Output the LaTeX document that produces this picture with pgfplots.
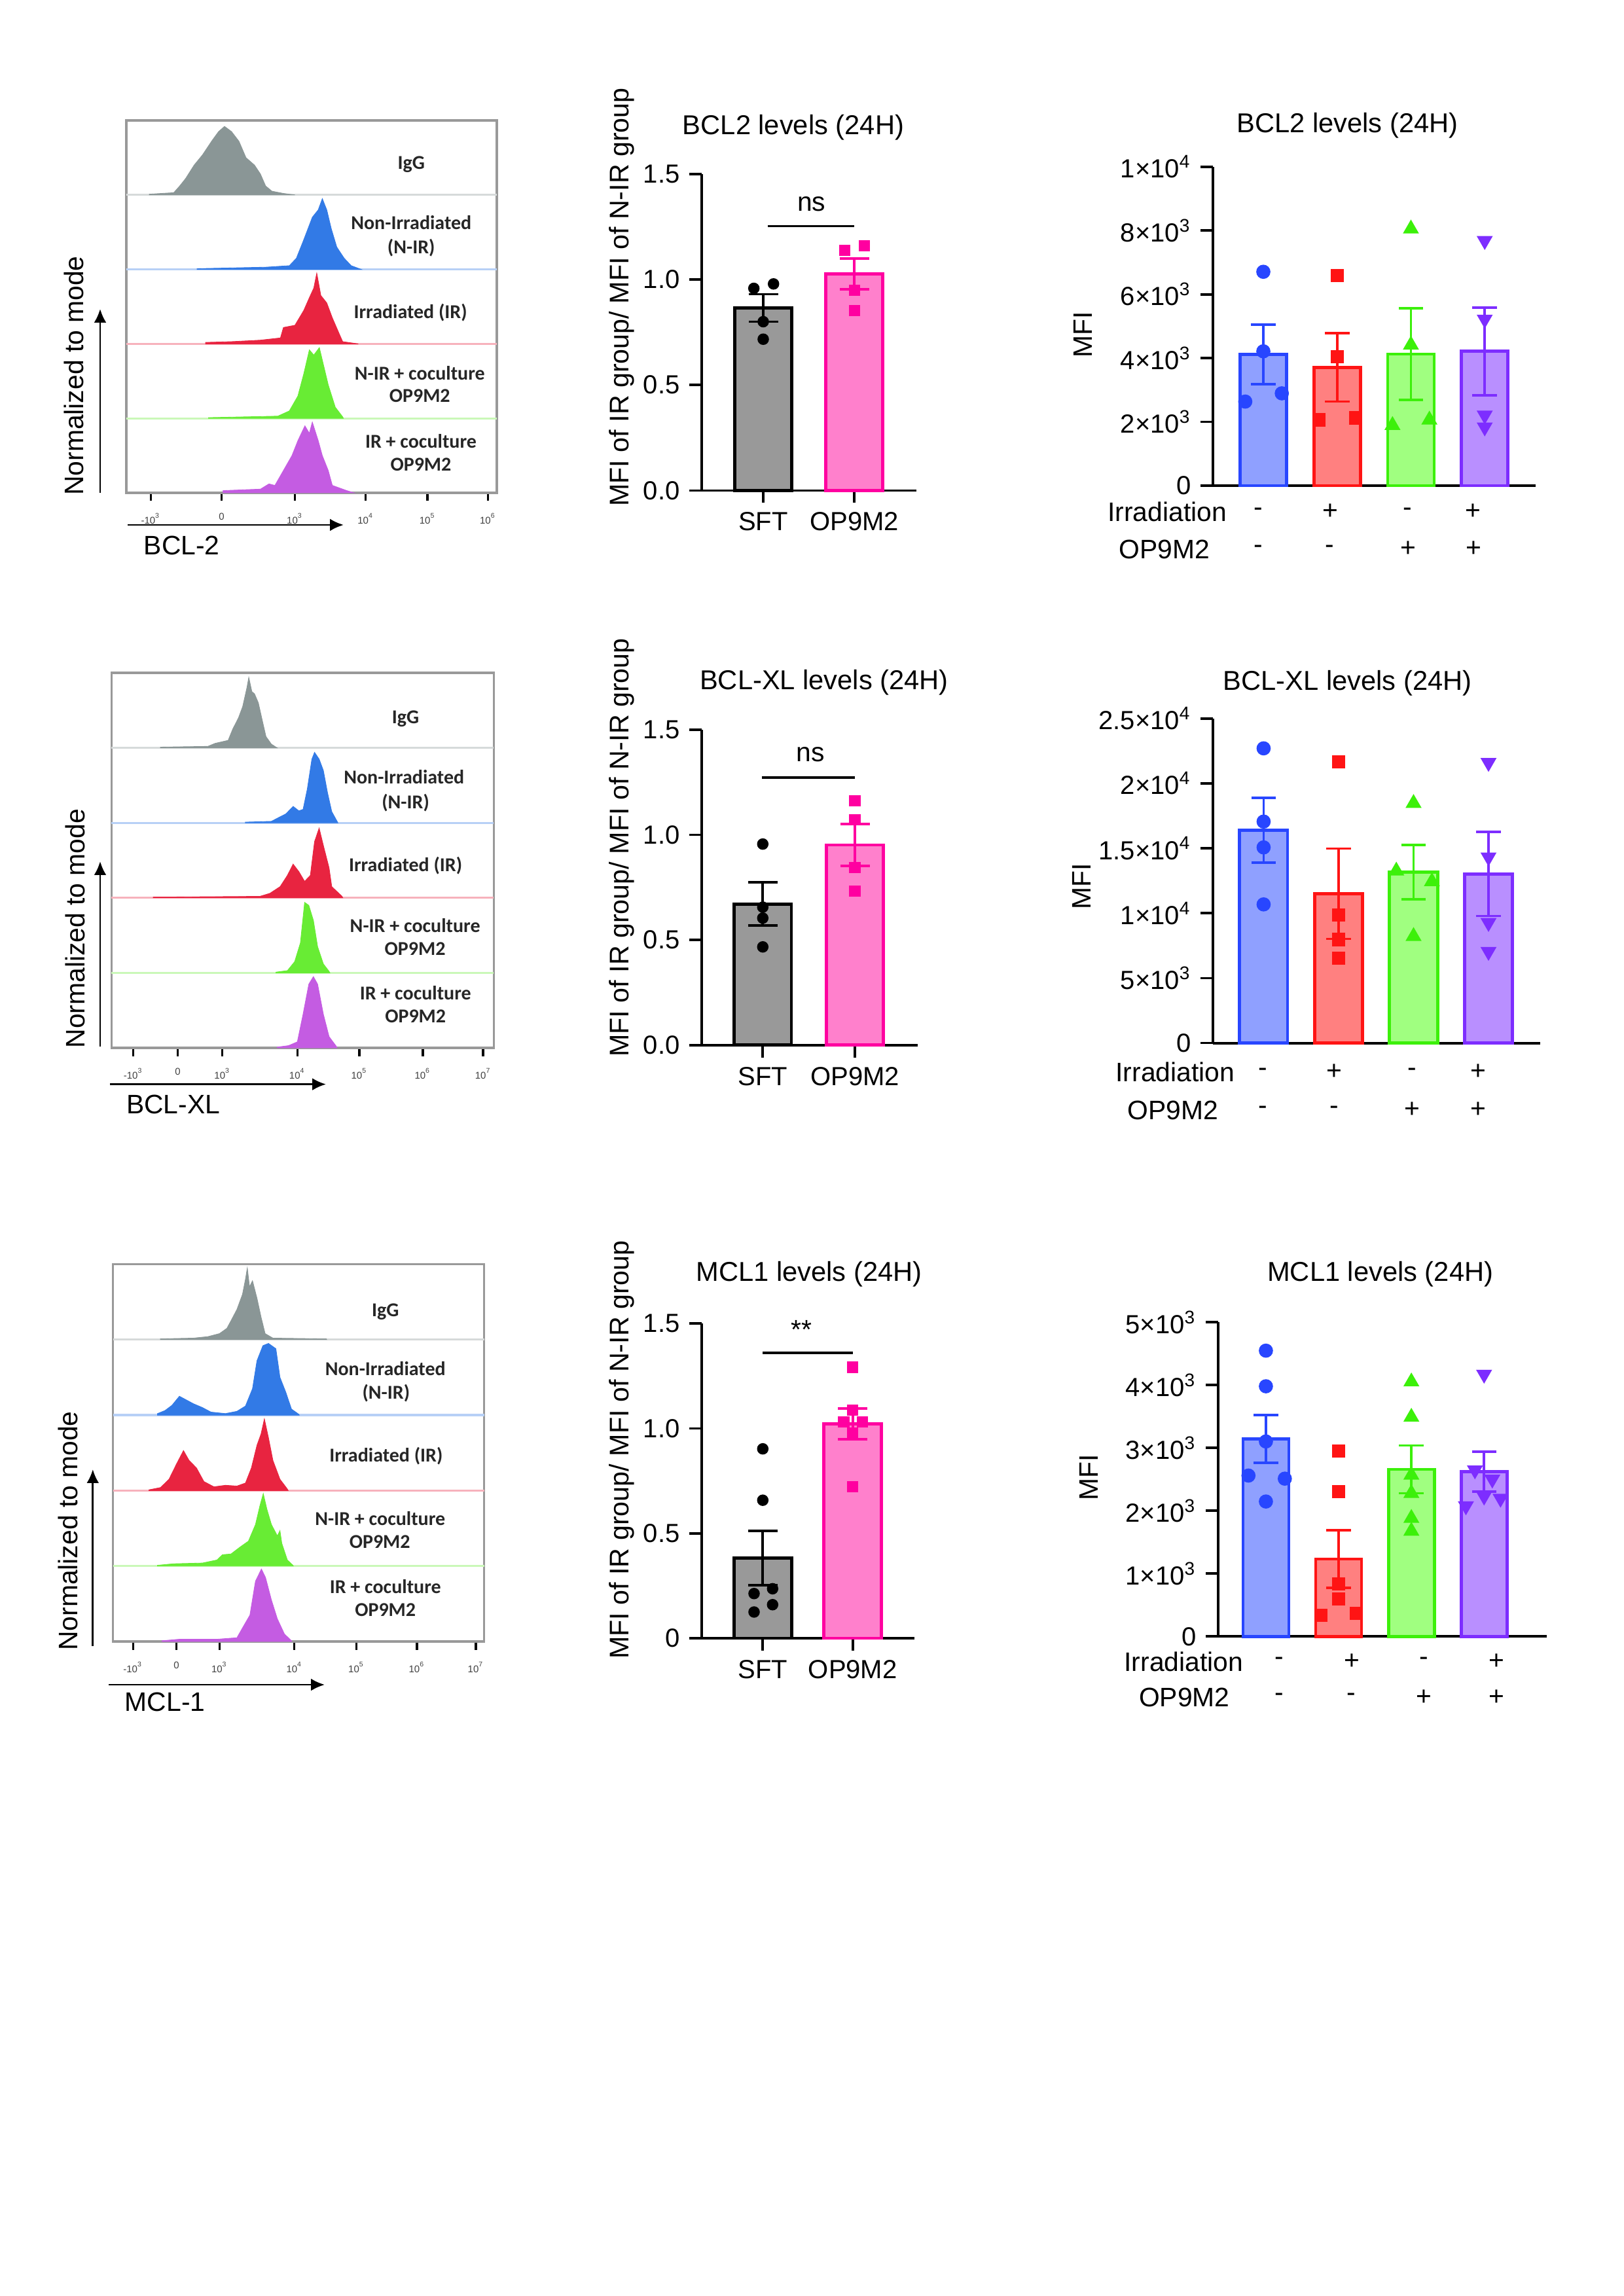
\documentclass[border=0pt]{standalone}
\usepackage{pgfplots}
\pgfplotsset{compat=1.18}
\usepackage{fontspec}
\setmainfont{Liberation Sans}
\newfontfamily\lanefont{Carlito}
\usetikzlibrary{arrows.meta}
\def\pxu{0.24pt}
\definecolor{hgray}{RGB}{138,150,150}
\definecolor{hblue}{RGB}{50,122,230}
\definecolor{hred}{RGB}{232,36,64}
\definecolor{hgreen}{RGB}{104,236,52}
\definecolor{hpurple}{RGB}{196,92,226}
\definecolor{eblue}{RGB}{40,70,255}
\definecolor{fblue}{RGB}{143,160,255}
\definecolor{ered}{RGB}{255,20,20}
\definecolor{fred}{RGB}{255,128,128}
\definecolor{egreen}{RGB}{60,240,10}
\definecolor{fgreen}{RGB}{160,255,128}
\definecolor{epurple}{RGB}{125,45,255}
\definecolor{fpurple}{RGB}{185,143,255}
\definecolor{epink}{RGB}{255,0,160}
\definecolor{fpink}{RGB}{255,128,204}
\definecolor{fgray}{RGB}{153,153,153}
\newcommand\ex[1]{10\textsuperscript{#1}}
\pgfplotsset{
  histax/.style={scale only axis, anchor=south west, xmin=0, xmax=100, ymin=0, ymax=5,
    ytick=\empty, xtick pos=left, tick align=outside,
    axis line style={draw=black!40, line width=0.8pt},
    major tick length=3pt, minor tick length=1.8pt, minor x tick num=4,
    tick style={black, line width=0.8pt},
    xticklabel style={font=\fontsize{3.6}{4}\selectfont, text=black!75, yshift=-1pt},
    clip=false},
  midax/.style={scale only axis, anchor=south west, axis x line=bottom, axis y line=left,
    axis line style={-, line width=0.9pt}, tick style={black, line width=0.9pt},
    tick align=outside, major tick length=4.5pt, clip=false, scaled y ticks=false,
    tick label style={font=\fontsize{9.6}{10}\selectfont}},
  rightax/.style={midax, xtick=\empty, axis line style={-, line width=1pt}},
  mbar/.style n args={4}{ybar, bar shift=0pt, bar width=#1, fill=#2, draw=#3, line width=1.15pt,
    error bars/.cd, y dir=both, y explicit,
    error bar style={line width=0.9pt, #3},
    error mark options={rotate=90, mark size=#4, line width=0.9pt, #3}},
}
\tikzset{lane/.style={font=\lanefont\bfseries\fontsize{7.2}{8}\selectfont, text=black!85, inner sep=0pt},
  txt/.style={font=\fontsize{9.8}{11}\selectfont, inner sep=0pt},
  ttl/.style={font=\fontsize{10}{12}\selectfont, inner sep=0pt},
  arr/.style={line width=0.7pt, -{Latex[length=5pt,width=4.5pt]}}}
\begin{document}
\begin{tikzpicture}
\path[use as bounding box] (0,0) rectangle ({2480*\pxu},{-3508*\pxu});

% ================= ROW 1 =================
\begin{axis}[histax, at={({193*\pxu},{-753*\pxu})}, width=135.84pt, height=136.56pt,
  xtick={6.6,25.7,45.5,64.6,81.3,97.6}, xticklabels={-\ex{3},0,\ex{3},\ex{4},\ex{5},\ex{6}}]
\draw[hgray!35, line width=0.8pt] (axis cs:0,4) -- (axis cs:100,4);
\draw[hblue!35, line width=0.8pt] (axis cs:0,3) -- (axis cs:100,3);
\draw[hred!35, line width=0.8pt] (axis cs:0,2) -- (axis cs:100,2);
\draw[hgreen!35, line width=0.8pt] (axis cs:0,1) -- (axis cs:100,1);
\addplot[fill=hgray, draw=hgray, line width=0.2pt] coordinates {(6.2,4) (6.2,4.01) (12.8,4.03) (14.4,4.12) (16.0,4.22) (18.3,4.40) (20.6,4.54) (23.0,4.72) (24.9,4.85) (26.5,4.92) (28.4,4.85) (30.4,4.72) (32.3,4.50) (34.6,4.40) (36.2,4.28) (37.6,4.12) (39.3,4.05) (42.4,4.02) (45.5,4)} -- cycle;
\addplot[fill=hblue, draw=hblue, line width=0.2pt] coordinates {(19.1,3) (19.1,3.01) (37.7,3.03) (44.0,3.05) (45.9,3.15) (47.9,3.40) (50.2,3.70) (51.8,3.80) (52.9,3.95) (54.1,3.80) (55.3,3.55) (56.8,3.30) (58.8,3.15) (60.7,3.05) (63.4,3)} -- cycle;
\addplot[fill=hred, draw=hred, line width=0.2pt] coordinates {(21.4,2) (21.4,2.02) (28.4,2.03) (36.2,2.05) (41.6,2.08) (42.4,2.22) (45.5,2.25) (47.9,2.45) (49.4,2.62) (50.6,2.75) (51.4,2.95) (52.5,2.65) (54.1,2.55) (55.6,2.35) (57.6,2.12) (58.4,2.03) (62.6,2)} -- cycle;
\addplot[fill=hgreen, draw=hgreen, line width=0.2pt] coordinates {(22.2,1) (22.2,1.01) (40.9,1.03) (44.0,1.10) (46.3,1.30) (47.9,1.60) (49.4,1.92) (50.6,1.85) (52.1,1.95) (53.3,1.70) (54.5,1.45) (56.4,1.15) (58.4,1.02) (58.6,1)} -- cycle;
\addplot[fill=hpurple, draw=hpurple, line width=0.2pt] coordinates {(26.1,0) (26.1,0.03) (36.2,0.05) (38.5,0.12) (40.1,0.10) (42.4,0.30) (44.7,0.50) (46.3,0.70) (48.2,0.90) (49.4,0.80) (50.2,0.95) (51.8,0.70) (52.9,0.50) (54.5,0.30) (55.6,0.10) (59.5,0.03) (61.5,0)} -- cycle;
\node[lane] at (axis cs:76.9,4.41) {IgG};
\node[lane] at (axis cs:76.9,3.63) {Non-Irradiated};
\node[lane] at (axis cs:76.9,3.29) {(N-IR)};
\node[lane] at (axis cs:76.7,2.42) {Irradiated (IR)};
\node[lane] at (axis cs:79.2,1.61) {N-IR + coculture};
\node[lane] at (axis cs:79.2,1.30) {OP9M2};
\node[lane] at (axis cs:79.5,0.69) {IR + coculture};
\node[lane] at (axis cs:79.5,0.38) {OP9M2};
\end{axis}
\node[txt, rotate=90] at ({113*\pxu},{-574*\pxu}) {Normalized to mode};
\draw[arr] ({153*\pxu},{-753*\pxu}) -- ({153*\pxu},{-472*\pxu});
\draw[arr] ({195*\pxu},{-802*\pxu}) -- ({525*\pxu},{-802*\pxu});
\node[txt, anchor=west] at ({219*\pxu},{-833*\pxu}) {BCL-2};

\begin{axis}[midax, at={({1072*\pxu},{-749.4*\pxu})}, width=78.72pt, height=116.06pt,
  xmin=-0.676, xmax=1.683, ymin=0, ymax=1.5,
  ytick={0,0.5,1,1.5}, yticklabels={0.0,0.5,1.0,1.5}, xtick={0,1}, xticklabels={SFT,OP9M2}]
\addplot[mbar={0.626}{fgray}{black}{5.4pt}] coordinates {(0,0.865) +- (0,0.065)};
\addplot[mbar={0.626}{fpink}{epink}{5.4pt}] coordinates {(1,1.027) +- (0,0.073)};
\addplot[only marks, mark=*, mark size=1.9pt, black] coordinates {(-0.103,0.958) (0.113,0.979) (0,0.80) (0,0.717)};
\addplot[only marks, mark=square*, mark size=1.85pt, epink] coordinates {(0.897,1.139) (1.108,1.16) (1,0.949) (1,0.852)};
\draw[line width=0.9pt] (axis cs:0.05,1.253) -- (axis cs:1,1.253);
\node[txt] at (axis cs:0.53,1.357) {ns};
\end{axis}
\node[ttl] at ({1212*\pxu},{-195*\pxu}) {BCL2 levels (24H)};
\node[txt, rotate=90, font=\fontsize{9.9}{11}\selectfont] at ({950*\pxu},{-454*\pxu}) {MFI of IR group/ MFI of N-IR group};

\begin{axis}[rightax, at={({1853*\pxu},{-742*\pxu})}, width=118.32pt, height=116.95pt,
  xmin=-0.683, xmax=3.69, ymin=0, ymax=10000,
  ytick={0,2000,4000,6000,8000,10000},
  yticklabels={0,2×10\textsuperscript{3},4×10\textsuperscript{3},6×10\textsuperscript{3},8×10\textsuperscript{3},1×10\textsuperscript{4}}]
\addplot[mbar={0.63}{fblue}{eblue}{4.5pt}] coordinates {(0,4112) +- (0,931)};
\addplot[mbar={0.63}{fred}{ered}{4.5pt}] coordinates {(1,3710) +- (0,1075)};
\addplot[mbar={0.63}{fgreen}{egreen}{4.5pt}] coordinates {(2,4126) +- (0,1433)};
\addplot[mbar={0.63}{fpurple}{epurple}{4.5pt}] coordinates {(3,4212) +- (0,1375)};
\addplot[only marks, mark=*, mark size=2.4pt, eblue] coordinates {(0,6705) (0,4212) (-0.245,2636) (0.25,2894)};
\addplot[only marks, mark=square*, mark size=2.25pt, ered] coordinates {(1,6590) (1,4040) (0.755,2063) (1.25,2120)};
\addplot[only marks, mark=triangle*, mark size=3pt, egreen] coordinates {(2,8052) (2,4413) (1.75,1891) (2.25,2063)};
\addplot[only marks, mark=triangle*, mark size=3pt, mark options={rotate=180}, epurple] coordinates {(3,7679) (3,5215) (3,2206) (3,1834)};
\node[txt, anchor=east] at (axis cs:-0.49,-821) {Irradiation};
\node[txt] at (axis cs:-0.07,-821) {-};
\node[txt] at (axis cs:0.905,-821) {+};
\node[txt] at (axis cs:1.95,-821) {-};
\node[txt] at (axis cs:2.84,-821) {+};
\node[txt, anchor=east] at (axis cs:-0.72,-1990) {OP9M2};
\node[txt] at (axis cs:-0.07,-1990) {-};
\node[txt] at (axis cs:0.9,-1990) {-};
\node[txt] at (axis cs:1.96,-1990) {+};
\node[txt] at (axis cs:2.85,-1990) {+};
\end{axis}
\node[ttl] at ({2058.5*\pxu},{-192*\pxu}) {BCL2 levels (24H)};
\node[txt, rotate=90] at ({1654.5*\pxu},{-511*\pxu}) {MFI};

% ================= ROW 2 =================
\begin{axis}[histax, at={({170.4*\pxu},{-1601*\pxu})}, width=140.18pt, height=137.52pt,
  xtick={5.7,17.3,29.0,48.6,64.8,81.4,97.2}, xticklabels={-\ex{3},0,\ex{3},\ex{4},\ex{5},\ex{6},\ex{7}}]
\draw[hgray!35, line width=0.8pt] (axis cs:0,4) -- (axis cs:100,4);
\draw[hblue!35, line width=0.8pt] (axis cs:0,3) -- (axis cs:100,3);
\draw[hred!35, line width=0.8pt] (axis cs:0,2) -- (axis cs:100,2);
\draw[hgreen!35, line width=0.8pt] (axis cs:0,1) -- (axis cs:100,1);
\addplot[fill=hgray, draw=hgray, line width=0.2pt] coordinates {(12.8,4) (12.8,4.01) (25.2,4.02) (27.1,4.06) (30.5,4.10) (31.7,4.25) (33.2,4.40) (34.3,4.55) (35.4,4.80) (35.9,4.94) (36.7,4.75) (37.4,4.72) (38.4,4.60) (39.5,4.35) (40.4,4.15) (41.8,4.05) (43.3,4)} -- cycle;
\addplot[fill=hblue, draw=hblue, line width=0.2pt] coordinates {(35.0,3) (35.0,3.01) (41.8,3.02) (43.3,3.06) (45.6,3.12) (47.5,3.22) (49.0,3.16) (50.1,3.18) (51.2,3.45) (52.4,3.85) (53.1,3.94) (54.3,3.85) (55.4,3.70) (56.5,3.40) (57.6,3.15) (59.0,3.02) (59.2,3)} -- cycle;
\addplot[fill=hred, draw=hred, line width=0.2pt] coordinates {(10.9,2) (10.9,2.01) (38.8,2.02) (41.4,2.06) (44.1,2.15) (46.0,2.30) (47.5,2.45) (49.0,2.35) (50.5,2.22) (52.0,2.30) (53.1,2.75) (54.3,2.93) (55.4,2.70) (56.9,2.40) (57.6,2.15) (60.3,2.02) (60.5,2)} -- cycle;
\addplot[fill=hgreen, draw=hgreen, line width=0.2pt] coordinates {(43.0,1) (43.0,1.01) (46.0,1.03) (47.9,1.15) (49.4,1.40) (50.5,1.94) (51.6,1.90) (52.8,1.70) (53.9,1.35) (55.4,1.12) (56.9,1.02) (57.1,1)} -- cycle;
\addplot[fill=hpurple, draw=hpurple, line width=0.2pt] coordinates {(43.3,0) (43.3,0.01) (46.3,0.03) (48.6,0.08) (50.1,0.45) (51.6,0.85) (52.8,0.95) (53.9,0.85) (55.4,0.45) (56.9,0.15) (58.8,0.02) (59.0,0)} -- cycle;
\node[lane] at (axis cs:76.9,4.39) {IgG};
\node[lane] at (axis cs:76.5,3.61) {Non-Irradiated};
\node[lane] at (axis cs:76.9,3.27) {(N-IR)};
\node[lane] at (axis cs:76.9,2.43) {Irradiated (IR)};
\node[lane] at (axis cs:79.4,1.63) {N-IR + coculture};
\node[lane] at (axis cs:79.4,1.32) {OP9M2};
\node[lane] at (axis cs:79.5,0.73) {IR + coculture};
\node[lane] at (axis cs:79.5,0.42) {OP9M2};
\end{axis}
\node[txt, rotate=90] at ({115*\pxu},{-1418.6*\pxu}) {Normalized to mode};
\draw[arr] ({153*\pxu},{-1599*\pxu}) -- ({153*\pxu},{-1316*\pxu});
\draw[arr] ({168*\pxu},{-1656.6*\pxu}) -- ({498*\pxu},{-1656.6*\pxu});
\node[txt, anchor=west] at ({192.4*\pxu},{-1687*\pxu}) {BCL-XL};

\begin{axis}[midax, at={({1072*\pxu},{-1596.8*\pxu})}, width=79.2pt, height=115.68pt,
  xmin=-0.663, xmax=1.682, ymin=0, ymax=1.5,
  ytick={0,0.5,1,1.5}, yticklabels={0.0,0.5,1.0,1.5}, xtick={0,1}, xticklabels={SFT,OP9M2}]
\addplot[mbar={0.62}{fgray}{black}{5.4pt}] coordinates {(0,0.671) +- (0,0.103)};
\addplot[mbar={0.62}{fpink}{epink}{5.4pt}] coordinates {(1,0.952) +- (0,0.099)};
\addplot[only marks, mark=*, mark size=1.9pt, black] coordinates {(0,0.956) (0,0.656) (0,0.604) (0,0.467)};
\addplot[only marks, mark=square*, mark size=1.85pt, epink] coordinates {(1,1.161) (1,1.071) (1,0.844) (1,0.733)};
\draw[line width=0.9pt] (axis cs:-0.01,1.273) -- (axis cs:1,1.273);
\node[txt] at (axis cs:0.52,1.382) {ns};
\end{axis}
\node[ttl] at ({1259*\pxu},{-1042.6*\pxu}) {BCL-XL levels (24H)};
\node[txt, rotate=90, font=\fontsize{9.9}{11}\selectfont] at ({950*\pxu},{-1295*\pxu}) {MFI of IR group/ MFI of N-IR group};

\begin{axis}[rightax, at={({1853*\pxu},{-1593.6*\pxu})}, width=120pt, height=119pt,
  xmin=-0.676, xmax=3.69, ymin=0, ymax=25000,
  ytick={0,5000,10000,15000,20000,25000},
  yticklabels={0,5×10\textsuperscript{3},1×10\textsuperscript{4},1.5×10\textsuperscript{4},2×10\textsuperscript{4},2.5×10\textsuperscript{4}}]
\addplot[mbar={0.64}{fblue}{eblue}{4.5pt}] coordinates {(0,16400) +- (0,2500)};
\addplot[mbar={0.64}{fred}{ered}{4.5pt}] coordinates {(1,11500) +- (0,3475)};
\addplot[mbar={0.64}{fgreen}{egreen}{4.5pt}] coordinates {(2,13170) +- (0,2090)};
\addplot[mbar={0.64}{fpurple}{epurple}{4.5pt}] coordinates {(3,13030) +- (0,3240)};
\addplot[only marks, mark=*, mark size=2.4pt, eblue] coordinates {(0,22700) (0,17060) (0,15070) (0,10680)};
\addplot[only marks, mark=square*, mark size=2.25pt, ered] coordinates {(1,21670) (1,9860) (1,7980) (1,6530)};
\addplot[only marks, mark=triangle*, mark size=3pt, egreen] coordinates {(2,18470) (1.77,13260) (2.245,12440) (2,8220)};
\addplot[only marks, mark=triangle*, mark size=3pt, mark options={rotate=180}, epurple] coordinates {(3,21600) (3,14320) (3,9270) (3,7040)};
\node[txt, anchor=east] at (axis cs:-0.38,-2229) {Irradiation};
\node[txt] at (axis cs:-0.01,-2229) {-};
\node[txt] at (axis cs:0.945,-2229) {+};
\node[txt] at (axis cs:1.98,-2229) {-};
\node[txt] at (axis cs:2.86,-2229) {+};
\node[txt, anchor=east] at (axis cs:-0.6,-5163) {OP9M2};
\node[txt] at (axis cs:-0.01,-5163) {-};
\node[txt] at (axis cs:0.94,-5163) {-};
\node[txt] at (axis cs:1.98,-5163) {+};
\node[txt] at (axis cs:2.86,-5163) {+};
\end{axis}
\node[ttl] at ({2058.5*\pxu},{-1044*\pxu}) {BCL-XL levels (24H)};
\node[txt, rotate=90] at ({1652*\pxu},{-1354*\pxu}) {MFI};

% ================= ROW 3 =================
\begin{axis}[histax, at={({172.6*\pxu},{-2508*\pxu})}, width=136.06pt, height=138.38pt,
  xtick={5.4,17.1,28.7,48.9,65.6,81.9,97.8}, xticklabels={-\ex{3},0,\ex{3},\ex{4},\ex{5},\ex{6},\ex{7}}]
\draw[hgray!35, line width=0.8pt] (axis cs:0,4) -- (axis cs:100,4);
\draw[hblue!35, line width=0.8pt] (axis cs:0,3) -- (axis cs:100,3);
\draw[hred!35, line width=0.8pt] (axis cs:0,2) -- (axis cs:100,2);
\draw[hgreen!35, line width=0.8pt] (axis cs:0,1) -- (axis cs:100,1);
\addplot[fill=hgray, draw=hgray, line width=0.2pt] coordinates {(12.8,4) (12.8,4.01) (21.7,4.02) (25.6,4.04) (28.7,4.08) (30.7,4.15) (31.8,4.25) (33.4,4.40) (34.9,4.60) (35.7,4.80) (36.2,4.95) (36.8,4.70) (37.6,4.78) (38.8,4.55) (39.9,4.30) (41.0,4.08) (43.1,4.02) (57.5,4.01) (57.6,4)} -- cycle;
\addplot[fill=hblue, draw=hblue, line width=0.2pt] coordinates {(12.0,3) (12.0,3.02) (14.0,3.06) (15.9,3.13) (17.9,3.25) (19.8,3.20) (21.7,3.15) (24.1,3.10) (26.4,3.04) (30.3,3.02) (33.4,3.05) (35.7,3.12) (37.6,3.35) (38.8,3.72) (40.4,3.92) (41.9,3.95) (43.9,3.88) (45.0,3.50) (46.6,3.30) (48.1,3.08) (50.1,3.01) (50.2,3)} -- cycle;
\addplot[fill=hred, draw=hred, line width=0.2pt] coordinates {(9.7,2) (9.7,2.01) (12.8,2.04) (15.1,2.15) (17.1,2.35) (19.0,2.53) (20.5,2.40) (22.5,2.30) (24.5,2.12) (27.2,2.05) (30.3,2.07) (33.4,2.06) (35.7,2.10) (37.3,2.30) (38.8,2.60) (39.9,2.75) (40.8,2.95) (41.9,2.70) (43.1,2.40) (45.0,2.15) (47.0,2.02) (47.2,2)} -- cycle;
\addplot[fill=hgreen, draw=hgreen, line width=0.2pt] coordinates {(12.0,1) (12.0,1.01) (16.3,1.03) (24.1,1.04) (28.0,1.08) (29.5,1.15) (31.8,1.16) (34.2,1.25) (36.5,1.33) (38.4,1.55) (39.6,1.80) (40.5,1.96) (41.5,1.75) (42.7,1.55) (44.3,1.40) (45.0,1.47) (45.5,1.30) (47.0,1.08) (48.5,1.01) (48.6,1)} -- cycle;
\addplot[fill=hpurple, draw=hpurple, line width=0.2pt] coordinates {(13.2,0) (13.2,0.01) (17.9,0.03) (28.0,0.03) (33.4,0.05) (34.9,0.18) (36.9,0.35) (38.4,0.80) (40.0,0.96) (41.1,0.85) (42.7,0.55) (44.3,0.30) (46.2,0.10) (48.1,0.01) (48.2,0)} -- cycle;
\node[lane] at (axis cs:73.4,4.37) {IgG};
\node[lane] at (axis cs:73.4,3.62) {Non-Irradiated};
\node[lane] at (axis cs:73.6,3.29) {(N-IR)};
\node[lane] at (axis cs:73.6,2.46) {Irradiated (IR)};
\node[lane] at (axis cs:72.0,1.63) {N-IR + coculture};
\node[lane] at (axis cs:71.9,1.32) {OP9M2};
\node[lane] at (axis cs:73.4,0.73) {IR + coculture};
\node[lane] at (axis cs:73.4,0.42) {OP9M2};
\end{axis}
\node[txt, rotate=90] at ({104.4*\pxu},{-2339*\pxu}) {Normalized to mode};
\draw[arr] ({141.8*\pxu},{-2515*\pxu}) -- ({141.8*\pxu},{-2245*\pxu});
\draw[arr] ({166*\pxu},{-2574*\pxu}) -- ({496*\pxu},{-2574*\pxu});
\node[txt, anchor=west] at ({190*\pxu},{-2600*\pxu}) {MCL-1};

\begin{axis}[midax, at={({1072*\pxu},{-2503*\pxu})}, width=78pt, height=115.37pt,
  xmin=-0.679, xmax=1.686, ymin=0, ymax=1.5,
  ytick={0,0.5,1,1.5}, yticklabels={0,0.5,1.0,1.5}, xtick={0,1}, xticklabels={SFT,OP9M2}]
\addplot[mbar={0.64}{fgray}{black}{5.4pt}] coordinates {(0,0.383) +- (0,0.13)};
\addplot[mbar={0.64}{fpink}{epink}{5.4pt}] coordinates {(1,1.022) +- (0,0.074)};
\addplot[only marks, mark=*, mark size=1.9pt, black] coordinates {(0,0.903) (0,0.658) (-0.097,0.213) (0.109,0.236) (0.109,0.160) (-0.097,0.125)};
\addplot[only marks, mark=square*, mark size=1.85pt, epink] coordinates {(1,1.292) (1,1.087) (0.90,1.030) (1.11,1.030) (1,0.977) (1,0.723)};
\draw[line width=0.9pt] (axis cs:0,1.361) -- (axis cs:1,1.361);
\node[txt] at (axis cs:0.43,1.47) {**};
\end{axis}
\node[ttl] at ({1236*\pxu},{-1946.6*\pxu}) {MCL1 levels (24H)};
\node[txt, rotate=90, font=\fontsize{9.9}{11}\selectfont] at ({950*\pxu},{-2215*\pxu}) {MFI of IR group/ MFI of N-IR group};

\begin{axis}[rightax, at={({1860.8*\pxu},{-2500.3*\pxu})}, width=120.48pt, height=115.2pt,
  xmin=-0.658, xmax=3.86, ymin=0, ymax=5000,
  ytick={0,1000,2000,3000,4000,5000},
  yticklabels={0,1×10\textsuperscript{3},2×10\textsuperscript{3},3×10\textsuperscript{3},4×10\textsuperscript{3},5×10\textsuperscript{3}}]
\addplot[mbar={0.63}{fblue}{eblue}{4.5pt}] coordinates {(0,3143) +- (0,379)};
\addplot[mbar={0.63}{fred}{ered}{4.5pt}] coordinates {(1,1232) +- (0,456)};
\addplot[mbar={0.63}{fgreen}{egreen}{4.5pt}] coordinates {(2,2660) +- (0,380)};
\addplot[mbar={0.63}{fpurple}{epurple}{4.5pt}] coordinates {(3,2620) +- (0,318)};
\addplot[only marks, mark=*, mark size=2.4pt, eblue] coordinates {(0,4549) (0,3982) (0,3104) (-0.24,2561) (0.26,2512) (0,2148)};
\addplot[only marks, mark=square*, mark size=2.25pt, ered] coordinates {(1,2949) (1,2304) (1,839) (1,597) (0.757,339) (1.243,369)};
\addplot[only marks, mark=triangle*, mark size=3pt, egreen] coordinates {(2,4054) (2,3492) (2,2570) (2,2279) (2,1882) (2,1678)};
\addplot[only marks, mark=triangle*, mark size=3pt, mark options={rotate=180}, epurple] coordinates {(3,4171) (2.874,2648) (3.113,2502) (3,2231) (2.75,2076) (3.226,2197)};
\node[txt, anchor=east] at (axis cs:-0.305,-398) {Irradiation};
\node[txt] at (axis cs:0.18,-398) {-};
\node[txt] at (axis cs:1.185,-398) {+};
\node[txt] at (axis cs:2.17,-398) {-};
\node[txt] at (axis cs:3.17,-398) {+};
\node[txt, anchor=east] at (axis cs:-0.49,-970) {OP9M2};
\node[txt] at (axis cs:0.18,-970) {-};
\node[txt] at (axis cs:1.17,-970) {-};
\node[txt] at (axis cs:2.17,-970) {+};
\node[txt] at (axis cs:3.17,-970) {+};
\end{axis}
\node[ttl] at ({2108.7*\pxu},{-1947*\pxu}) {MCL1 levels (24H)};
\node[txt, rotate=90] at ({1663*\pxu},{-2257*\pxu}) {MFI};
\end{tikzpicture}
\end{document}
